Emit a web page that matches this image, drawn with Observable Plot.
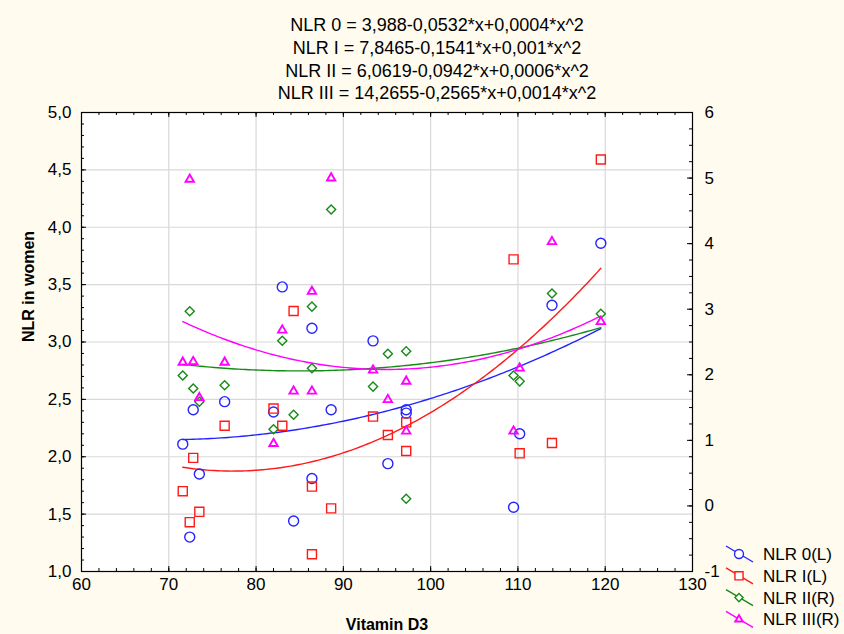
<!DOCTYPE html>
<html><head><meta charset="utf-8">
<script src="https://cdn.jsdelivr.net/npm/d3@7"></script>
<script src="https://cdn.jsdelivr.net/npm/@observablehq/plot@0.6"></script>
<style>
body{margin:0;background:#fffbef;}
#wrap{position:relative;width:844px;height:634px;overflow:hidden;}
#wrap svg{position:absolute;left:0;top:0;}
</style></head><body><div id="wrap"></div>
<script>
// ---- data ----
const equations = [
  "NLR 0 = 3,988-0,0532*x+0,0004*x^2",
  "NLR I = 7,8465-0,1541*x+0,001*x^2",
  "NLR II = 6,0619-0,0942*x+0,0006*x^2",
  "NLR III = 14,2655-0,2565*x+0,0014*x^2"
];
const seriesNames = ["NLR 0(L)", "NLR I(L)", "NLR II(R)", "NLR III(R)"];

const nlr0X = [71.6, 72.8, 73.5, 72.4, 76.4, 82.0, 83.0, 86.4, 84.3, 86.4, 88.6, 93.4, 95.1, 97.2, 97.2, 109.5, 110.2, 113.9, 119.5];
const nlr0Y = [2.11, 2.41, 1.85, 1.30, 2.48, 2.39, 3.48, 3.12, 1.44, 1.81, 2.41, 3.01, 1.94, 2.41, 2.38, 1.56, 2.20, 3.32, 3.86];

const nlr1X = [72.8, 71.6, 73.5, 72.4, 76.4, 84.3, 82.0, 83.0, 86.4, 88.6, 86.4, 93.4, 95.1, 97.2, 97.2, 119.5, 109.5, 110.2, 113.9];
const nlr1Y = [1.99, 1.70, 1.52, 1.43, 2.27, 3.27, 2.42, 2.27, 1.74, 1.55, 1.15, 2.35, 2.19, 2.30, 2.05, 4.59, 3.72, 2.03, 2.12];

const nlr2X = [72.4, 71.6, 72.8, 73.5, 76.4, 88.6, 86.4, 83.0, 86.4, 84.3, 82.0, 95.1, 97.2, 93.4, 97.2, 113.9, 119.5, 109.5, 110.2];
const nlr2Y = [2.97, 1.99, 1.79, 1.59, 1.84, 4.52, 3.04, 2.52, 2.10, 1.39, 1.17, 2.32, 2.36, 1.82, 0.11, 3.24, 2.93, 1.99, 1.90];

const nlr3X = [72.4, 88.6, 86.4, 71.6, 72.8, 76.4, 73.5, 83.0, 84.3, 86.4, 82.0, 93.4, 97.2, 95.1, 97.2, 113.9, 119.5, 110.2, 109.5];
const nlr3Y = [4.98, 5.00, 3.27, 2.19, 2.20, 2.19, 1.65, 2.68, 1.75, 1.75, 0.95, 2.07, 1.90, 1.62, 1.14, 4.03, 2.81, 2.10, 1.14];

const xTicks = [60, 70, 80, 90, 100, 110, 120, 130];
const yTicks = [1.0, 1.5, 2.0, 2.5, 3.0, 3.5, 4.0, 4.5, 5.0];
const rTicks = [-1, 0, 1, 2, 3, 4, 5, 6];

// ---- layout ----
const W = 844, H = 634, mL = 81, mR = 152, mT = 112, mB = 63;
const plotW = W - mL - mR, plotH = H - mT - mB;
const FONT = "'Liberation Sans', Arial, sans-serif";

// right axis (-1..6) mapped onto left scale (1..5)
const rToL = r => 1 + (r + 1) * 4 / 7;

const styles = [
  {color: "#2424ff", symbol: "circle", r: 5, sw: 1.4, axis: "L"},
  {color: "#ff1a1a", symbol: "square", r: 5.1, sw: 1.4, axis: "L"},
  {color: "#178a17", symbol: "diamond2", r: 4.1, sw: 1.4, axis: "R"},
  {color: "#ff00ff", symbol: "triangle", r: 3.1, sw: 1.9, axis: "R"}
];
const raw = [[nlr0X, nlr0Y], [nlr1X, nlr1Y], [nlr2X, nlr2Y], [nlr3X, nlr3Y]];

function quadFit(xs, ys) {
  let n = xs.length, s1 = 0, s2 = 0, s3 = 0, s4 = 0, t0 = 0, t1 = 0, t2 = 0;
  for (let i = 0; i < n; i++) {
    const x = xs[i], y = ys[i];
    s1 += x; s2 += x * x; s3 += x ** 3; s4 += x ** 4;
    t0 += y; t1 += x * y; t2 += x * x * y;
  }
  const A = [[n, s1, s2], [s1, s2, s3], [s2, s3, s4]], B = [t0, t1, t2];
  const det = m => m[0][0] * (m[1][1] * m[2][2] - m[1][2] * m[2][1]) - m[0][1] * (m[1][0] * m[2][2] - m[1][2] * m[2][0]) + m[0][2] * (m[1][0] * m[2][1] - m[1][1] * m[2][0]);
  const D = det(A);
  const c = [0, 1, 2].map(k => det(A.map((row, i) => row.map((v, j) => j === k ? B[i] : v))) / D);
  return x => c[0] + c[1] * x + c[2] * x * x;
}

const dotMarks = [], lineMarks = [];
raw.forEach(([xs, ys], si) => {
  const st = styles[si];
  const conv = st.axis === "R" ? rToL : (v => v);
  const pts = xs.map((x, i) => ({x, y: conv(ys[i])}));
  const f = quadFit(xs, ys);
  const x0 = d3.min(xs), x1 = d3.max(xs);
  const curve = d3.range(0, 121).map(i => { const x = x0 + (x1 - x0) * i / 120; return {x, y: conv(f(x))}; });
  lineMarks.push(Plot.line(curve, {x: "x", y: "y", stroke: st.color, strokeWidth: 1.4}));
  dotMarks.push(Plot.dot(pts, {x: "x", y: "y", symbol: () => st.symbol, r: st.r, stroke: st.color, strokeWidth: st.sw, fill: "none"}));
});

const fmt1 = d => d.toFixed(1).replace(".", ",");
const xMinor = d3.range(60, 130.01, 2);
const yMinor = d3.range(0, 41).map(i => 1 + i * 0.1);
const rMinor = d3.range(0, 29).map(i => rToL(-1 + i * 0.25));
const tickStyle = {stroke: "black", strokeWidth: 1};

const chart = Plot.plot({
  width: W, height: H,
  marginLeft: mL, marginRight: mR, marginTop: mT, marginBottom: mB,
  style: {background: "transparent", fontFamily: FONT},
  x: {domain: [60, 130], axis: null},
  y: {domain: [1, 5], axis: null},
  marks: [
    Plot.frame({fill: "white", stroke: null}),
    Plot.ruleX(xTicks.slice(1, -1), {stroke: "#d8d8d8", strokeWidth: 1.2}),
    Plot.ruleY(yTicks.slice(1, -1), {stroke: "#d8d8d8", strokeWidth: 1.2}),
    // ticks (inward)
    Plot.tickX(xTicks, {x: d => d, insetTop: plotH - 5, ...tickStyle}),
    Plot.tickX(xMinor, {x: d => d, insetTop: plotH - 3, ...tickStyle}),
    Plot.tickX(xTicks, {x: d => d, insetBottom: plotH - 5, ...tickStyle}),
    Plot.tickX(xMinor, {x: d => d, insetBottom: plotH - 3, ...tickStyle}),
    Plot.tickY(yTicks, {y: d => d, insetRight: plotW - 5, ...tickStyle}),
    Plot.tickY(yMinor, {y: d => d, insetRight: plotW - 3, ...tickStyle}),
    Plot.tickY(rTicks.map(rToL), {y: d => d, insetLeft: plotW - 5, ...tickStyle}),
    Plot.tickY(rMinor, {y: d => d, insetLeft: plotW - 3, ...tickStyle}),
    Plot.frame({stroke: "black", strokeWidth: 1.2}),
    // tick labels
    Plot.text(xTicks, {x: d => d, frameAnchor: "bottom", dy: 18, text: d => String(d), fontSize: 17, fill: "black"}),
    Plot.text(yTicks, {y: d => d, frameAnchor: "left", dx: -10, textAnchor: "end", text: fmt1, fontSize: 17, fill: "black"}),
    Plot.text(rTicks, {y: d => rToL(d), frameAnchor: "right", dx: 12, textAnchor: "start", text: d => String(d), fontSize: 17, fill: "black"}),
    // axis titles
    Plot.text(["Vitamin D3"], {frameAnchor: "bottom", dx: 0, dy: 58, fontSize: 16, fontWeight: "bold", fill: "black"}),
    Plot.text(["NLR in women"], {frameAnchor: "left", dx: -53, rotate: -90, fontSize: 16, fontWeight: "bold", fill: "black"}),
    // equations
    ...equations.map((t, i) => Plot.text([t], {frameAnchor: "top", dx: 50, dy: -94 + i * 22.7, fontSize: 18, fill: "black"})),
    ...lineMarks,
    ...dotMarks
  ]
});
document.getElementById("wrap").appendChild(chart);

// legend overlay
const leg = d3.select("#wrap").append("svg").attr("width", W).attr("height", H).style("pointer-events", "none");
const symMap = {circle: d3.symbolCircle, square: d3.symbolSquare, diamond2: d3.symbolDiamond2, triangle: d3.symbolTriangle};
seriesNames.forEach((name, i) => {
  const st = styles[i];
  const cy = 554 + i * 21.8, cx = 739;
  const g = leg.append("g");
  g.append("line").attr("x1", cx - 13).attr("y1", cy - 8).attr("x2", cx + 14).attr("y2", cy + 8)
    .attr("stroke", st.color).attr("stroke-width", 1.4);
  g.append("path").attr("d", d3.symbol(symMap[st.symbol], Math.PI * st.r * st.r * 0.8)())
    .attr("transform", `translate(${cx},${cy})`).attr("fill", "white").attr("stroke", st.color).attr("stroke-width", st.sw);
  g.append("text").attr("x", 763).attr("y", cy).attr("dy", "0.35em").attr("font-family", FONT)
    .attr("font-size", 17).attr("fill", "black").text(name);
});
</script></body></html>
